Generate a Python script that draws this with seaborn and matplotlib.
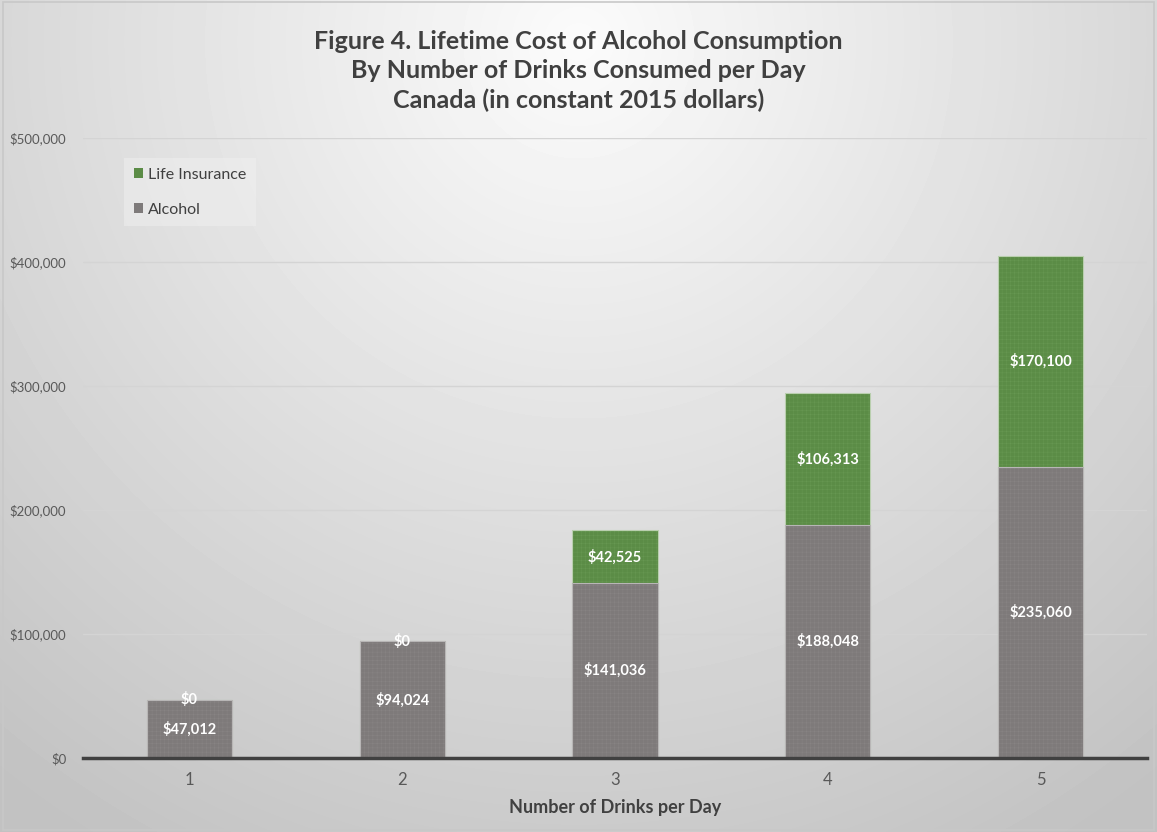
import numpy as np
import pandas as pd
import matplotlib
matplotlib.use("Agg")
import matplotlib.pyplot as plt
from matplotlib.patches import Rectangle, Patch
import seaborn as sns

# Data: lifetime cost by drinks per day (constant 2015 dollars)
drinks = ["1", "2", "3", "4", "5"]
alcohol = [47012, 94024, 141036, 188048, 235060]
life_insurance = [0, 0, 42525, 106313, 170100]
y_ticks = [0, 100000, 200000, 300000, 400000, 500000]

GRAY = "#7e7a7a"
GREEN = "#5b8c46"

sns.set_theme(style="white")
plt.rcParams["font.family"] = ["Lato", "DejaVu Sans"]

W, H, DPI = 1157, 832, 100
fig = plt.figure(figsize=(W / DPI, H / DPI), dpi=DPI)

# Radial gradient backdrop, brightest near the top centre
bg = fig.add_axes([0, 0, 1, 1], zorder=-10)
yy, xx = np.mgrid[0:H, 0:W]
cx, cy = W * 0.5, H * 0.05
r = np.sqrt(((xx - cx) / (W * 0.75)) ** 2 + ((yy - cy) / (H * 1.05)) ** 2)
shade = np.clip(0.985 - 0.21 * r, 0.76, 1.0)
bg.imshow(shade, cmap="gray", vmin=0, vmax=1, aspect="auto",
          extent=[0, 1, 0, 1], origin="upper", interpolation="bilinear")
bg.set_axis_off()
fig.patches.append(Rectangle((0.003, 0.003), 0.994, 0.994, transform=fig.transFigure,
                             fill=False, edgecolor="#c8c8c8", linewidth=1.2))

ax = fig.add_axes([83 / W, 1 - 758 / H, (1147 - 83) / W, (758 - 138) / H])
ax.patch.set_alpha(0)

df = pd.DataFrame({"drinks": drinks, "alcohol": alcohol, "life": life_insurance})
df["total"] = df["alcohol"] + df["life"]

sns.barplot(data=df, x="drinks", y="total", color=GREEN, saturation=1, width=0.40,
            edgecolor="#b9cfae", linewidth=0.8, hatch="++++", ax=ax, zorder=3)
sns.barplot(data=df, x="drinks", y="alcohol", color=GRAY, saturation=1, width=0.40,
            edgecolor="#b8b6b6", linewidth=0.8, hatch="++++", ax=ax, zorder=3)
for bar in ax.containers[0]:
    bar._hatch_color = matplotlib.colors.to_rgba("#6c9c57")
for bar in ax.containers[1]:
    bar._hatch_color = matplotlib.colors.to_rgba("#8c8888")
for bar in ax.patches:
    if hasattr(bar, "set_hatch_linewidth"):
        bar.set_hatch_linewidth(0.25)

# Value labels inside each segment
lab_kw = dict(ha="center", va="center", color="white", fontsize=10.5,
              fontweight="bold", zorder=5)
for i, (a, l) in enumerate(zip(alcohol, life_insurance)):
    ax.text(i, a / 2, f"${a:,}", **lab_kw)
    ax.text(i, a + l / 2, f"${l:,}", **lab_kw)

ax.set_xlim(-0.5, 4.5)
ax.set_ylim(0, 500000)
ax.set_yticks(y_ticks)
ax.set_yticklabels([f"${v:,}" for v in y_ticks])
ax.yaxis.grid(True, color="#d4d4d4", linewidth=1.0, zorder=0)
ax.set_axisbelow(True)
for s in ["top", "right", "left"]:
    ax.spines[s].set_visible(False)
ax.spines["bottom"].set_color("#404040")
ax.spines["bottom"].set_linewidth(2.5)
ax.spines["bottom"].set_zorder(6)
ax.tick_params(axis="y", length=0, pad=12, labelsize=9.5, labelcolor="#595959")
ax.tick_params(axis="x", length=0, pad=10, labelsize=12, labelcolor="#595959")
ax.set_ylabel("")
ax.set_xlabel("Number of Drinks per Day", fontsize=13, fontweight="bold",
              color="#404040", labelpad=8)

handles = [Patch(facecolor=GREEN, edgecolor="none", hatch="++++"),
           Patch(facecolor=GRAY, edgecolor="none", hatch="++++")]
leg = ax.legend(handles, ["Life Insurance", "Alcohol"], loc="upper left",
                bbox_to_anchor=(0.031, 0.98), frameon=True, fontsize=11.5,
                handlelength=0.6, handleheight=0.6, handletextpad=0.3,
                labelspacing=1.3, borderpad=0.6)
leg.get_frame().set_facecolor("#f2f2f2")
leg.get_frame().set_alpha(0.45)
leg.get_frame().set_edgecolor("none")
leg.get_frame().set_boxstyle("square", pad=0)
for t in leg.get_texts():
    t.set_color("#404040")

fig.text(0.5, 1 - 71 / H,
         "Figure 4. Lifetime Cost of Alcohol Consumption\n"
         "By Number of Drinks Consumed per Day\n"
         "Canada (in constant 2015 dollars)",
         ha="center", va="center", fontsize=18, fontweight="bold",
         color="#404040", linespacing=1.35)

fig.savefig("out.png", dpi=DPI)
